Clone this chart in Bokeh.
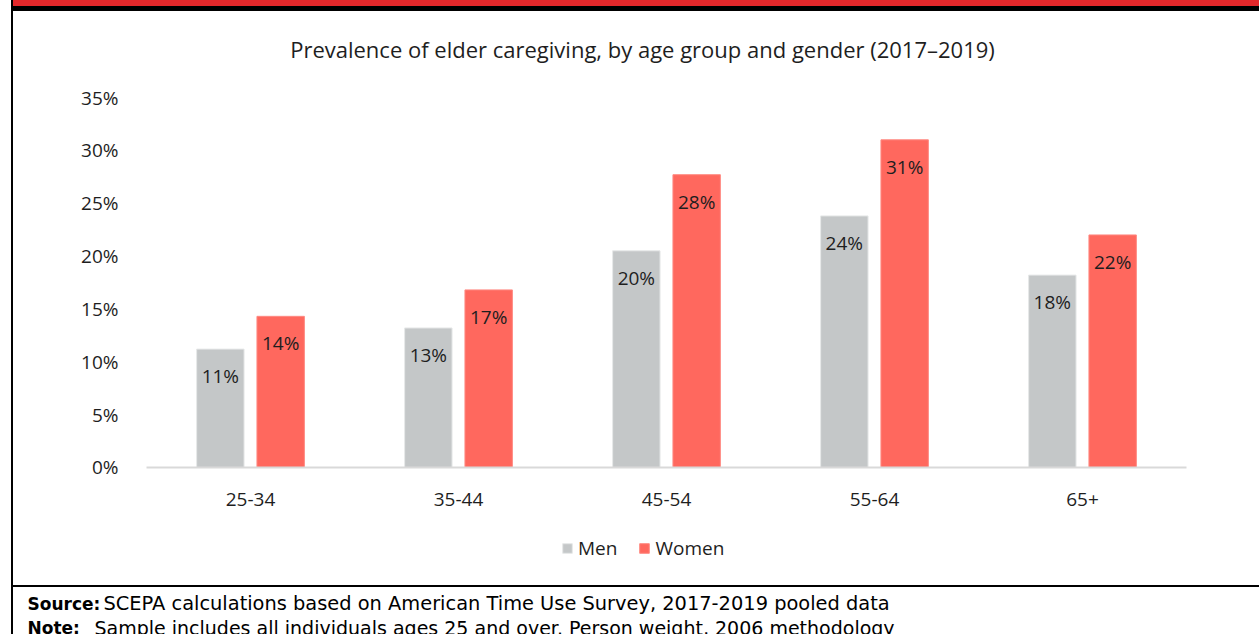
from bokeh.plotting import figure
from bokeh.models import (ColumnDataSource, Range1d, NumeralTickFormatter, LabelSet, Label,
                          Legend, LegendItem, FixedTicker)
from bokeh.transform import dodge
from bokeh.core.properties import value
from bokeh.embed import file_html
from bokeh.resources import INLINE

ages = ["25-34", "35-44", "45-54", "55-64", "65+"]
men = [0.112, 0.132, 0.205, 0.238, 0.182]
women = [0.143, 0.168, 0.277, 0.310, 0.220]
y_ticks = [0, 0.05, 0.10, 0.15, 0.20, 0.25, 0.30, 0.35]
title_text = "Prevalence of elder caregiving, by age group and gender (2017\u20132019)"
source_head = "Source:"
source_text = "SCEPA calculations based on American Time Use Survey, 2017-2019 pooled data"
note_head = "Note:"
note_text = "Sample includes all individuals ages 25 and over. Person weight, 2006 methodology"

MEN_C = "#C4C7C8"
WOMEN_C = "#FF685E"
TXT = "#1E1E1E"
FONT = "Open Sans"
FS = "19px"
FOOT_FONT = "DejaVu Sans"

# category slots on a numeric axis (one unit per age group)
xpos = [i + 0.5 for i in range(len(ages))]

src = ColumnDataSource(dict(
    x=xpos, age=ages, men=men, women=women,
    men_lbl=[f"{round(v*100)}%" for v in men],
    women_lbl=[f"{round(v*100)}%" for v in women],
))

# page decoration (banner bars, left rule, footer rule) drawn as CSS behind the canvas
deco = ("linear-gradient(#E4282B,#E4282B) 13px 0px / 1246px 6px no-repeat, "
        "linear-gradient(#000,#000) 11px 6px / 1248px 5px no-repeat, "
        "linear-gradient(#000,#000) 11px 0px / 2px 634px no-repeat, "
        "linear-gradient(#000,#000) 11px 585px / 1248px 2px no-repeat, #fff")

p = figure(width=1259, height=634,
           x_range=Range1d(-0.702, 5.351), y_range=Range1d(-0.158, 0.4418),
           output_backend="svg", toolbar_location=None,
           min_border_left=0, min_border_right=0, min_border_top=0, min_border_bottom=0,
           styles={"background": deco})
p.outline_line_color = None
p.grid.visible = False
p.background_fill_color = None
p.border_fill_color = None

r_men = p.vbar(x=dodge("x", -0.145), top="men", width=0.228, source=src,
               fill_color=MEN_C, line_color="#E6E8E8", line_width=1)
r_women = p.vbar(x=dodge("x", 0.145), top="women", width=0.228, source=src,
                 fill_color=WOMEN_C, line_color="#FF8A82", line_width=1)

for col, off in (("men", -0.145), ("women", 0.145)):
    p.add_layout(LabelSet(x=dodge("x", off), y=col, text=col + "_lbl",
                          source=src, y_offset=-27, text_align="center", text_baseline="middle",
                          text_font=value(FONT), text_font_size=FS, text_color=TXT))

# axes, pinned inside the frame
p.yaxis.fixed_location = 0
p.yaxis.ticker = FixedTicker(ticks=y_ticks)
p.yaxis.formatter = NumeralTickFormatter(format="0%")
p.yaxis.axis_line_color = None
p.yaxis.major_tick_line_color = None
p.yaxis.minor_tick_line_color = None
p.yaxis.major_label_standoff = 22
p.yaxis.major_label_text_font = FONT
p.yaxis.major_label_text_font_size = FS
p.yaxis.major_label_text_color = TXT

p.xaxis.fixed_location = 0
p.xaxis.bounds = (0, len(ages))
p.xaxis.ticker = FixedTicker(ticks=xpos)
p.xaxis.major_label_overrides = {x: a for x, a in zip(xpos, ages)}
p.xaxis.axis_line_color = "#D9D9D9"
p.xaxis.axis_line_width = 2
p.xaxis.major_tick_line_color = None
p.xaxis.minor_tick_line_color = None
p.xaxis.major_label_standoff = 20
p.xaxis.major_label_text_font = FONT
p.xaxis.major_label_text_font_size = FS
p.xaxis.major_label_text_color = TXT

# legend
legend = Legend(items=[LegendItem(label="Men", renderers=[r_men]),
                       LegendItem(label="Women", renderers=[r_women])],
                orientation="horizontal", location=(561, 73),
                glyph_width=12, glyph_height=12, label_standoff=5, spacing=21,
                padding=0, margin=0, border_line_color=None, background_fill_alpha=0,
                label_text_font=FONT, label_text_font_size=FS, label_text_color=TXT)
p.add_layout(legend, "center")

H = 634
def lab(text, cx, cy, size, font=FONT, bold=False, align="left", color=TXT):
    p.add_layout(Label(x=cx, y=H - cy, x_units="screen", y_units="screen", text=text,
                       text_font=font, text_font_size=size,
                       text_font_style="bold" if bold else "normal",
                       text_align=align, text_baseline="middle", text_color=color))

lab(title_text, 642, 48, "22px", align="center")
lab(source_head, 27, 603, "17px", font=FOOT_FONT, bold=True, color="#000")
lab(source_text, 103, 603, "19.4px", font=FOOT_FONT, color="#000")
lab(note_head, 27, 627, "17px", font=FOOT_FONT, bold=True, color="#000")
lab(note_text, 94, 627, "19px", font=FOOT_FONT, color="#000")

open("out.html", "w").write(file_html(p, INLINE))
